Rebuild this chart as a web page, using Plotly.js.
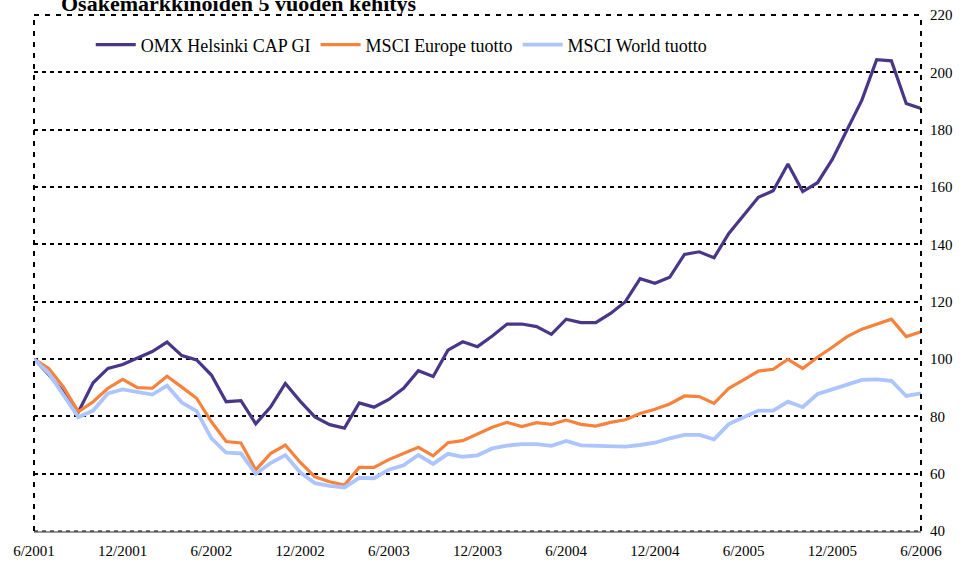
<!DOCTYPE html>
<html>
<head>
<meta charset="utf-8">
<script src="https://cdn.plot.ly/plotly-3.0.1.min.js"></script>
<style>html,body{margin:0;padding:0;background:#fff;}#chart{width:964px;height:565px;}</style>
</head>
<body>
<div id="chart"></div>
<script>
const tickLabels = ["6/2001","12/2001","6/2002","12/2002","6/2003","12/2003","6/2004","12/2004","6/2005","12/2005","6/2006"];
const tickIdx = [0,6,12,18,24,30,36,42,48,54,60];

const omx = [100,94.5,88.5,81.5,91.7,96.7,98.1,100.2,102.6,105.9,101.2,99.7,94.4,85.1,85.5,77.4,83.2,91.5,85.3,79.8,77.1,75.9,84.7,83.2,85.9,89.8,95.9,93.9,103.1,106.0,104.3,108.0,112.2,112.2,111.3,108.6,113.9,112.7,112.7,115.9,120.0,128.0,126.4,128.5,136.5,137.4,135.3,143.8,150.2,156.4,158.7,168.0,158.4,161.5,169.6,180.0,190.3,204.4,204.0,189.1,187.4];
const europe = [100,96.7,90.2,81.6,85.1,89.8,92.9,90.0,89.8,94.0,90.2,86.3,78.1,71.2,70.7,61.3,67.0,70.0,64.0,58.9,57.2,56.0,62.2,62.2,64.9,67.1,69.2,66.2,70.8,71.5,73.8,76.2,77.9,76.4,77.8,77.2,78.7,77.2,76.6,77.9,78.8,81.0,82.5,84.3,87.1,86.9,84.5,89.8,92.7,95.8,96.4,99.9,96.7,100.6,104.1,107.8,110.4,112.2,113.9,107.8,109.5];
const world = [100,95.0,87.4,79.7,82.0,88.0,89.4,88.5,87.6,90.7,84.8,81.8,72.3,67.3,67.1,59.9,63.7,66.5,60.5,56.7,55.7,55.2,58.5,58.4,61.4,62.9,66.5,63.4,66.9,65.9,66.4,68.8,69.8,70.3,70.3,69.7,71.4,69.9,69.8,69.4,69.4,70.0,70.8,72.3,73.5,73.5,72.0,77.3,79.7,82.0,82.0,85.1,83.2,87.8,89.4,90.9,92.7,92.9,92.4,87.1,88.0];

const seriesNames = ["OMX Helsinki CAP GI","MSCI Europe tuotto","MSCI World tuotto"];
const titleText = "Osakemarkkinoiden 5 vuoden kehitys";

const font = "Liberation Serif, Times New Roman, serif";

const traces = [
  {y: omx, name: seriesNames[0], type: 'scatter', mode: 'lines', line: {color: '#4A3688', width: 3.2}},
  {y: europe, name: seriesNames[1], type: 'scatter', mode: 'lines', line: {color: '#F7823C', width: 3.2}},
  {y: world, name: seriesNames[2], type: 'scatter', mode: 'lines', line: {color: '#ADC5FF', width: 3.8}}
];

const layout = {
  width: 964, height: 565,
  margin: {l: 34, r: 43, t: 15, b: 34},
  paper_bgcolor: '#fff', plot_bgcolor: '#fff',
  font: {family: font, color: '#000', size: 15},
  showlegend: true,
  legend: {orientation: 'h', x: 0.064, xanchor: 'left', y: 0.978, yanchor: 'top', itemwidth: 40,
           font: {family: font, size: 18, color: '#000'}, bgcolor: 'rgba(0,0,0,0)'},
  xaxis: {range: [0, 60], tickvals: tickIdx, ticktext: tickLabels, showgrid: false, zeroline: false,
          ticks: '', showline: true, linecolor: '#999', linewidth: 2, ticklabelstandoff: 5,
          tickfont: {family: font, size: 15, color: '#000'}, fixedrange: true},
  yaxis: {range: [40, 220], dtick: 20, tick0: 40, side: 'right', showgrid: true, gridcolor: '#000',
          gridwidth: 2, griddash: '4px,4px', zeroline: false, ticks: '', showline: false,
          ticklabelstandoff: 8, tickfont: {family: font, size: 15, color: '#000'}, fixedrange: true},
  shapes: [
    {type: 'line', xref: 'paper', yref: 'paper', x0: 0, x1: 1, y0: 1, y1: 1, line: {color: '#000', width: 2, dash: '5px,6px'}},
    {type: 'line', xref: 'paper', yref: 'paper', x0: 0, x1: 0, y0: 0, y1: 1, line: {color: '#000', width: 2, dash: '5px,6px'}},
    {type: 'line', xref: 'paper', yref: 'paper', x0: 1, x1: 1, y0: 0, y1: 1, line: {color: '#000', width: 2, dash: '5px,6px'}},
    {type: 'line', xref: 'paper', yref: 'paper', x0: 0, x1: 1, y0: 0, y1: 0, line: {color: '#000', width: 1, dash: '4px,4px'}}
  ],
  annotations: [
    {text: '<b>' + titleText + '</b>', xref: 'paper', yref: 'paper', x: 0.028, y: 1, xanchor: 'left', yanchor: 'bottom',
     showarrow: false, font: {family: font, size: 22, color: '#000'}, yshift: -3}
  ]
};

Plotly.newPlot('chart', traces, layout, {displayModeBar: false, staticPlot: true});
</script>
</body>
</html>
